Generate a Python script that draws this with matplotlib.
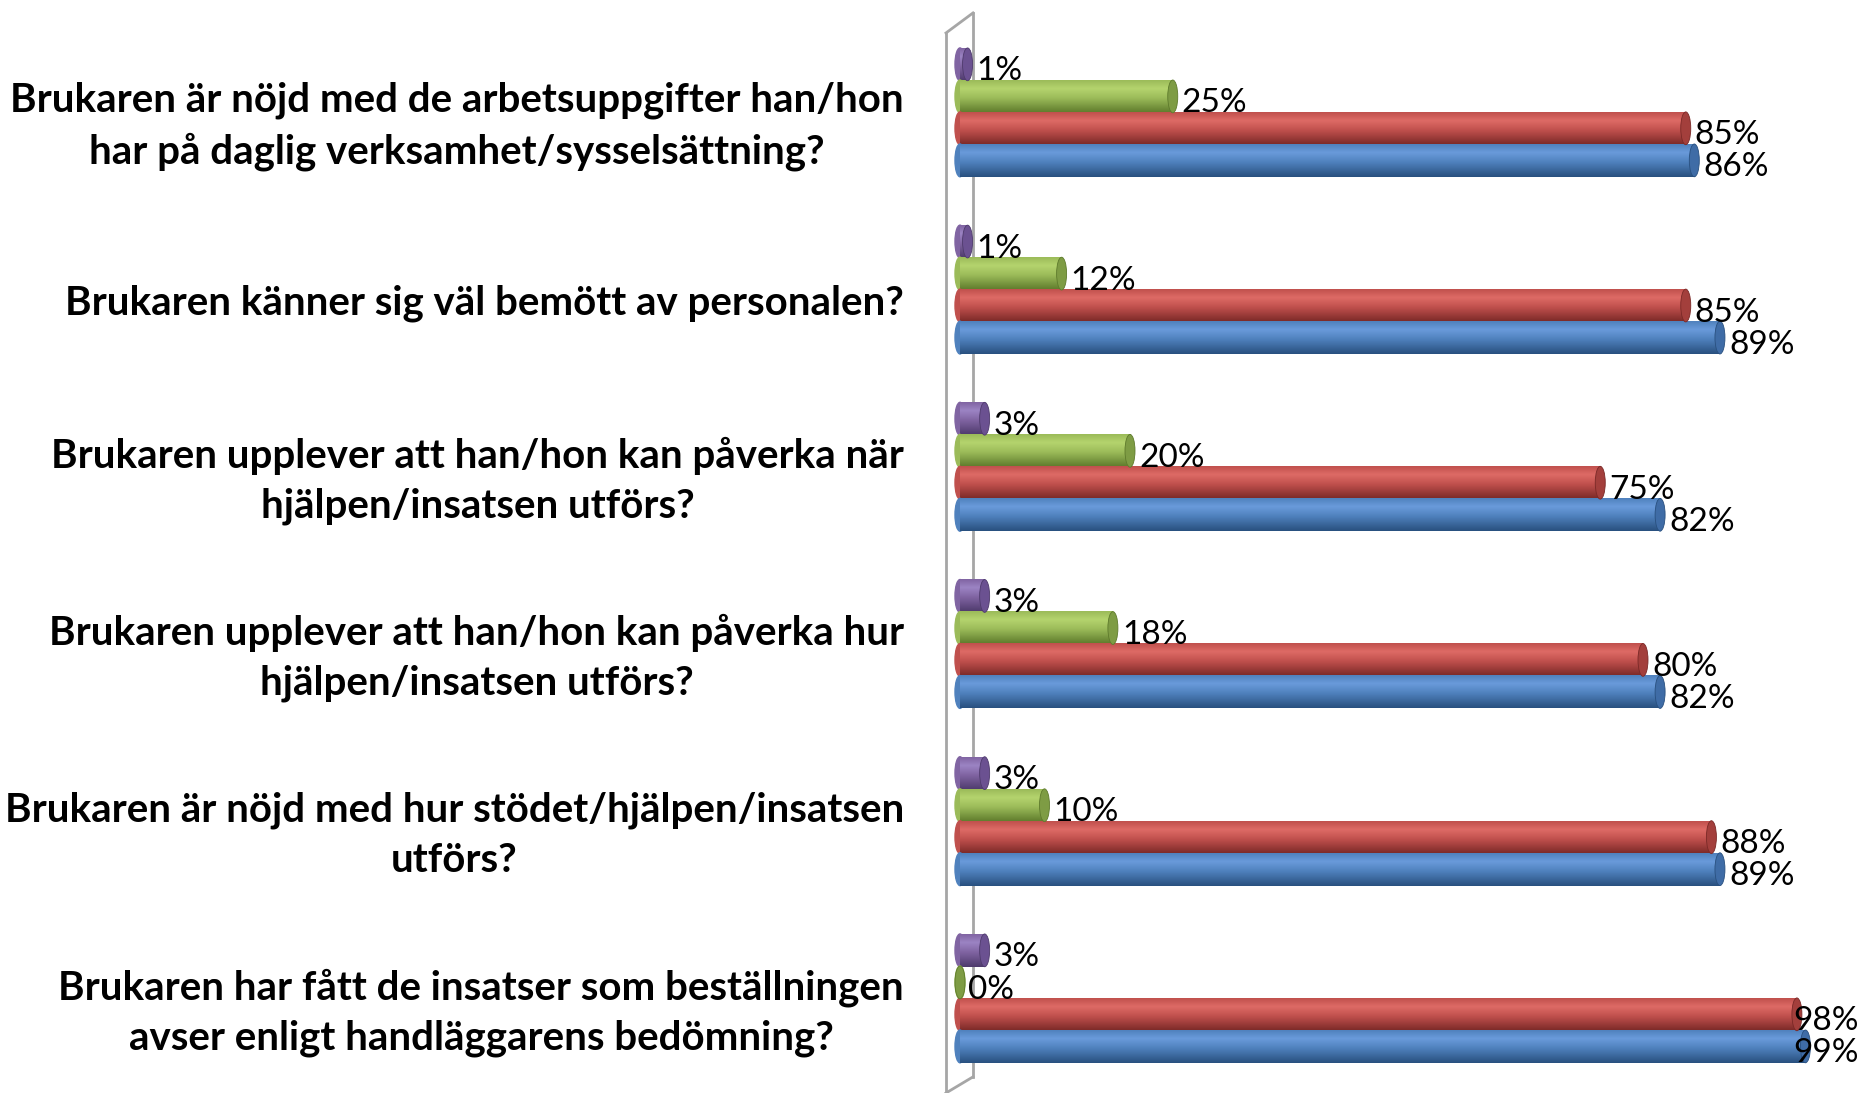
import numpy as np
import matplotlib.pyplot as plt
import matplotlib.transforms as mtransforms
from matplotlib.patches import Ellipse
from matplotlib.colors import LinearSegmentedColormap

# --- data ----------------------------------------------------------------
fragor = [
    "Brukaren är nöjd med de arbetsuppgifter han/hon\nhar på daglig verksamhet/sysselsättning?",
    "Brukaren känner sig väl bemött av personalen?",
    "Brukaren upplever att han/hon kan påverka när\nhjälpen/insatsen utförs?",
    "Brukaren upplever att han/hon kan påverka hur\nhjälpen/insatsen utförs?",
    "Brukaren är nöjd med hur stödet/hjälpen/insatsen\nutförs?",
    "Brukaren har fått de insatser som beställningen\navser enligt handläggarens bedömning?",
]
serie_lila = [1, 1, 3, 3, 3, 3]
serie_gron = [25, 12, 20, 18, 10, 0]
serie_rod = [85, 85, 75, 80, 88, 98]
serie_bla = [86, 89, 82, 82, 89, 99]

# series top to bottom inside each group, with colours:
# (highlight, base, shadow, end face)
stil = [
    (serie_lila, -0.271, ("#9C84C4", "#8064A2", "#4E3A6C", "#6B5191")),
    (serie_gron, -0.090, ("#B5D46E", "#9BBB59", "#5E7A2C", "#7E9C44")),
    (serie_rod, 0.090, ("#DE6B66", "#C0504D", "#7A2927", "#A33F3C")),
    (serie_bla, 0.271, ("#6A9BDB", "#4F81BD", "#29507F", "#3F6CA6")),
]
bar_h = 0.185

PX = 8.55            # pixels per percent
X0 = 964             # pixel column of 0 %
CAP = 10 / PX        # width of cylinder end face in data units
AX_LEFT = 930        # axes starts a bit left of zero for the rounded ends

fig = plt.figure(figsize=(18.65, 10.93), dpi=100)
ax = fig.add_axes([AX_LEFT / 1865, 0, (X0 + 100 * PX - AX_LEFT) / 1865, 1])

grad = np.linspace(0, 1, 64).reshape(-1, 1)
for values, off, (hi, base, dark, face) in stil:
    cmap = LinearSegmentedColormap.from_list(
        "cyl", [(0, base), (0.25, hi), (0.55, base), (1, dark)])
    for i, v in enumerate(values):
        y = i + off
        left = -4 / PX
        right = v - CAP / 2
        # rounded back end
        ax.add_patch(Ellipse((left, y), CAP, bar_h, color=base, zorder=2 + i))
        if right > left:
            ax.imshow(grad, extent=(left, right, y + bar_h / 2, y - bar_h / 2),
                      cmap=cmap, aspect="auto", interpolation="bicubic",
                      zorder=2 + i)
        ax.add_patch(Ellipse((max(right, left), y), CAP, bar_h, facecolor=face,
                             edgecolor=dark, lw=0.6, zorder=2.5 + i))
        # labels near the right edge are pulled back inside the chart
        ax.text(min(v + 4 / PX, 97.0), y + 0.04, f"{v}%", ha="left",
                va="center", fontsize=24, family="Lato", color="black",
                zorder=20)

ax.set_xlim((AX_LEFT - X0) / PX, 100)
ax.set_ylim(5.534, -0.634)
ax.axis("off")

# 3D wall outline
wall = dict(color="#A6A6A6", lw=2, clip_on=False, zorder=1)
fx, bx = (946 - X0) / PX, (973 - X0) / PX
ax.plot([fx, fx], [-0.448, 5.6], **wall)
ax.plot([bx, bx], [-0.561, 5.443], **wall)
ax.plot([fx, bx], [-0.448, -0.561], **wall)
ax.plot([bx, fx], [5.443, 5.534], **wall)

# question labels
trans = mtransforms.blended_transform_factory(fig.transFigure, ax.transData)
for i, q in enumerate(fragor):
    fig.text(904 / 1865, i + 0.08, q, transform=trans, ha="right", va="center",
             multialignment="center", fontsize=29, fontweight="bold",
             family="Lato", linespacing=1.42)

fig.savefig("out.png", dpi=100)
